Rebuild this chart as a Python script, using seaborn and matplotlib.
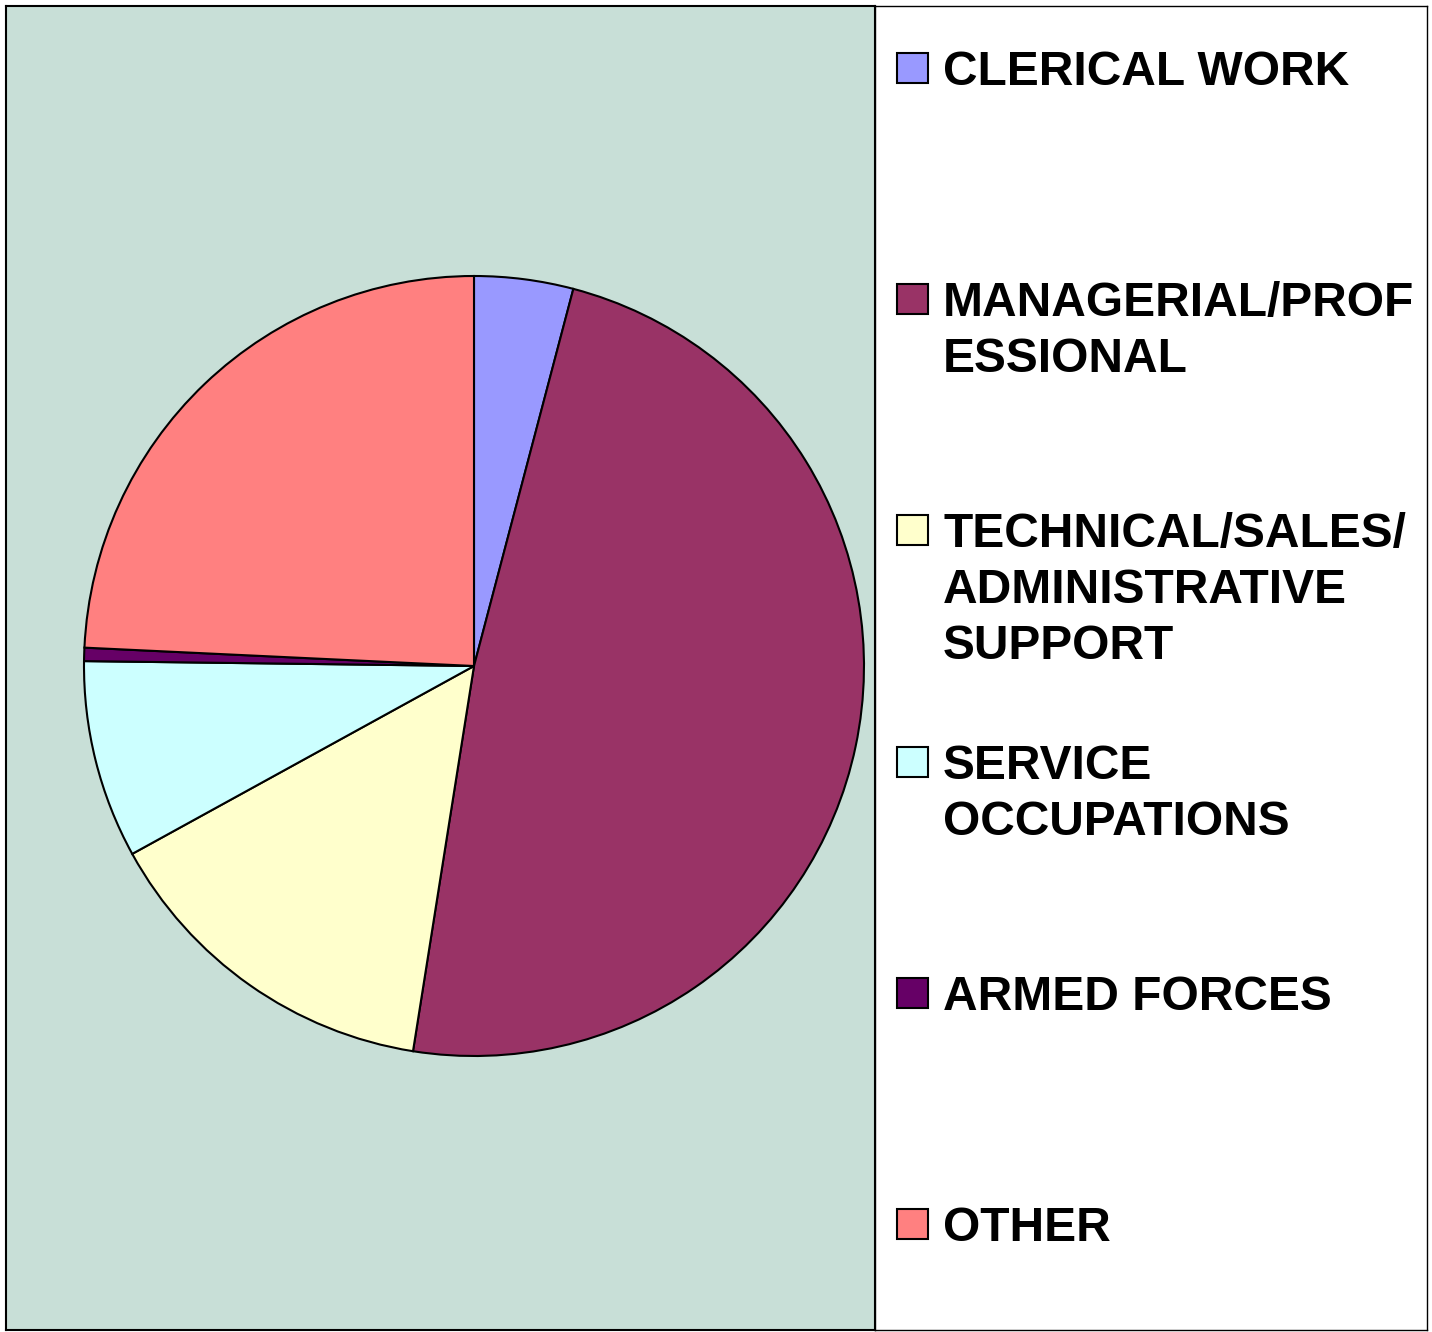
import matplotlib
matplotlib.use("Agg")
import matplotlib.pyplot as plt
import seaborn as sns
from matplotlib.patches import Rectangle

# occupation shares (percent)
categories = ["CLERICAL WORK", "MANAGERIAL/PROF\nESSIONAL",
              "TECHNICAL/SALES/\nADMINISTRATIVE\nSUPPORT",
              "SERVICE\nOCCUPATIONS", "ARMED FORCES", "OTHER"]
shares = [4.1, 48.4, 14.5, 8.2, 0.55, 24.25]
colors = ["#9999FF", "#993366", "#FFFFCC", "#CCFFFF", "#660066", "#FF8080"]

sns.set_theme(style="white")
plt.rcParams["font.family"] = ["Liberation Sans", "DejaVu Sans"]

W, H = 1432, 1332
fig = plt.figure(figsize=(W / 100, H / 100), dpi=100)
fig.patch.set_facecolor("white")

# plot area (pie)
ax = fig.add_axes([6 / W, 2 / H, (875 - 6) / W, 1324 / H])
ax.pie(shares, colors=colors, startangle=90, counterclock=False, radius=1,
       wedgeprops=dict(edgecolor="black", linewidth=1.5))
ax.set_frame_on(True)
ax.set_facecolor("#C8DFD7")
r = 390.0
ax.set_xlim((6 - 474) / r, (875 - 474) / r)
ax.set_ylim(-(1330 - 666) / r, (666 - 6) / r)
ax.set_aspect("equal")
ax.set_xticks([])
ax.set_yticks([])
for s in ax.spines.values():
    s.set_visible(True)
    s.set_color("black")
    s.set_linewidth(1.5)

# legend area
lax = fig.add_axes([875 / W, 2 / H, (1427 - 875) / W, 1324 / H])
lax.set_facecolor("white")
lax.set_xlim(875, 1427)
lax.set_ylim(1330, 6)
lax.set_xticks([])
lax.set_yticks([])
for s in lax.spines.values():
    s.set_visible(True)
    s.set_color("black")
    s.set_linewidth(1.0)

base0, step, line_h = 85, 231.2, 56
for i, (lab, col) in enumerate(zip(categories, colors)):
    b = base0 + i * step
    lax.add_patch(Rectangle((897, b - 32), 31, 30, facecolor=col,
                            edgecolor="black", linewidth=1.5))
    for j, line in enumerate(lab.split("\n")):
        lax.text(943, b + j * line_h, line, fontsize=34.5, fontweight="bold",
                 color="black", ha="left", va="baseline")

fig.savefig("out.png", dpi=100, facecolor="white")
